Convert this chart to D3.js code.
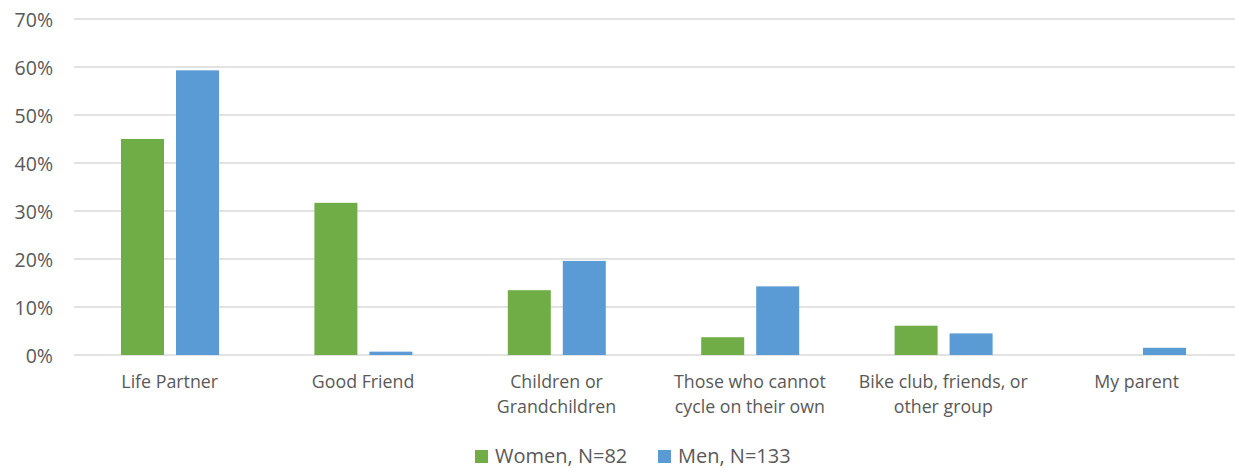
<!DOCTYPE html>
<html>
<head>
<meta charset="utf-8">
<script src="https://cdn.jsdelivr.net/npm/d3@7"></script>
<style>
  html, body { margin: 0; padding: 0; background: #fff; }
  svg { display: block; }
  text { font-family: "Open Sans", Lato, sans-serif; fill: #595959; }
</style>
</head>
<body>
<svg id="chart" width="1235" height="468"></svg>
<script>
const categories = [
  ["Life Partner"],
  ["Good Friend"],
  ["Children or", "Grandchildren"],
  ["Those who cannot", "cycle on their own"],
  ["Bike club, friends, or", "other group"],
  ["My parent"]
];
const seriesNames = ["Women, N=82", "Men, N=133"];
const women = [0.450, 0.317, 0.135, 0.037, 0.061, 0.0];
const men   = [0.593, 0.007, 0.196, 0.143, 0.045, 0.015];
const yTicks = [0, 0.1, 0.2, 0.3, 0.4, 0.5, 0.6, 0.7];
const colors = ["#70ad47", "#5b9bd5"];

const svg = d3.select("#chart");
const catKeys = categories.map((c, i) => i);
const series = [women, men];

const x0 = d3.scaleBand().domain(catKeys).range([73, 1233.4]).paddingInner(0).paddingOuter(0);
const x1 = d3.scaleBand().domain([0, 1]).range([48, 146]).paddingInner(0.218).paddingOuter(0);
const y = d3.scaleLinear().domain([0, 0.7]).range([355, 19]);

// gridlines
svg.append("g").selectAll("line").data(yTicks).join("line")
  .attr("x1", 74).attr("x2", 1235)
  .attr("y1", d => y(d)).attr("y2", d => y(d))
  .attr("stroke", "#d9d9d9").attr("stroke-width", 1.5);

// y axis labels
const yAxis = d3.axisLeft(y).tickValues(yTicks).tickFormat(d3.format(".0%")).tickSize(0).tickPadding(0);
const yg = svg.append("g").attr("transform", "translate(53,0)").call(yAxis);
yg.select(".domain").remove();
yg.selectAll("text").style("font-size", "19.5px").attr("fill", "#595959").attr("font-family", "'Open Sans', sans-serif").attr("dy", "0.36em");

// bars
const groups = svg.append("g").selectAll("g").data(catKeys).join("g")
  .attr("transform", d => `translate(${x0(d)},0)`);
groups.selectAll("rect").data(i => series.map((s, k) => ({k, v: s[i]}))).join("rect")
  .filter(d => d.v > 0)
  .attr("x", d => x1(d.k))
  .attr("width", x1.bandwidth())
  .attr("y", d => y(d.v))
  .attr("height", d => y(0) - y(d.v))
  .attr("fill", d => colors[d.k]);

// category labels
const lab = svg.append("g").selectAll("text").data(catKeys).join("text")
  .attr("text-anchor", "middle")
  .attr("x", d => x0(d) + x0.bandwidth() / 2)
  .attr("y", 388)
  .style("font-size", "17.8px");
lab.selectAll("tspan").data(d => categories[d]).join("tspan")
  .attr("x", function() { return d3.select(this.parentNode).attr("x"); })
  .attr("dy", (d, i) => i === 0 ? 0 : 25)
  .text(d => d);

// legend
const legend = svg.append("g");
const legX = [475, 658];
seriesNames.forEach((name, k) => {
  legend.append("rect").attr("x", legX[k]).attr("y", 450).attr("width", 13).attr("height", 13).attr("fill", colors[k]);
  legend.append("text").attr("x", legX[k] + 20).attr("y", 463).style("font-size", "20px").text(name);
});
</script>
</body>
</html>
